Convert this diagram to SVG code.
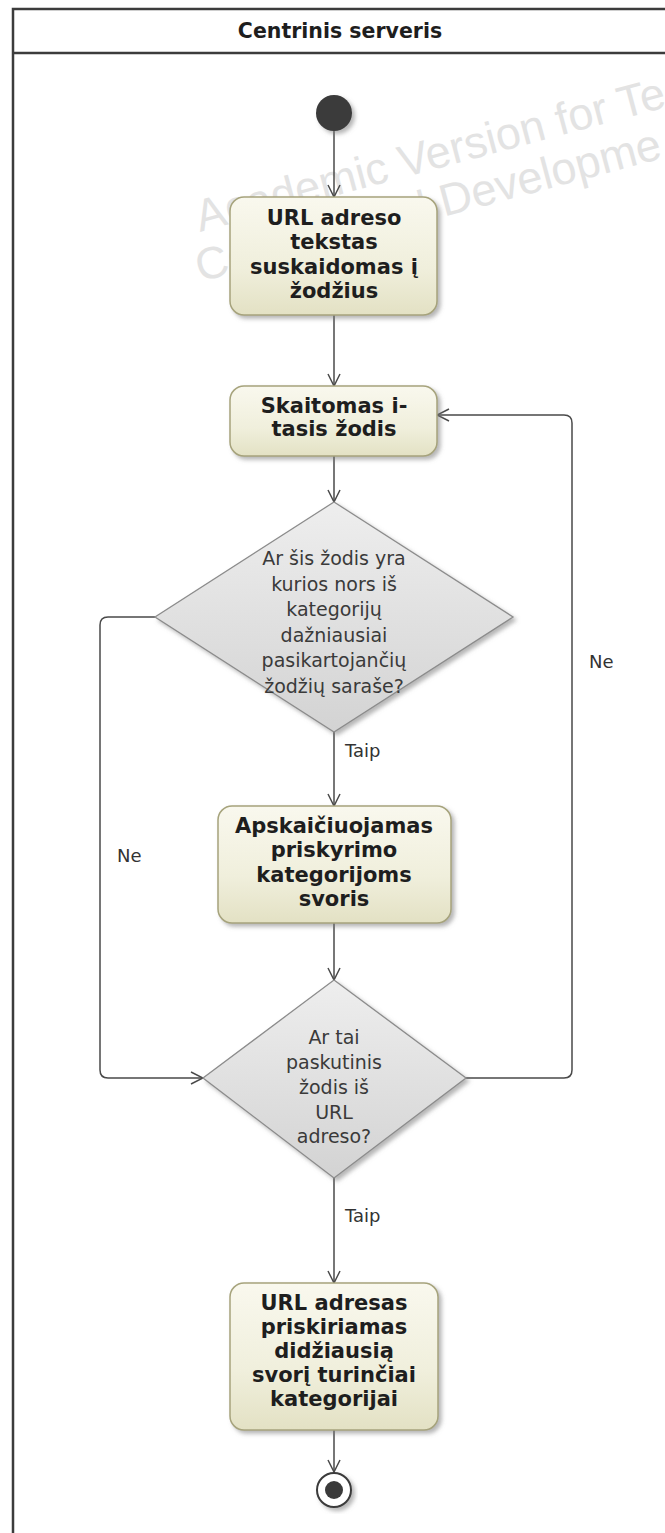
<svg xmlns="http://www.w3.org/2000/svg" width="665" height="1533" viewBox="0 0 665 1533">
  <defs>
    <linearGradient id="actionFill" x1="0" y1="0" x2="0" y2="1">
      <stop offset="0" stop-color="#f9f8ee"/>
      <stop offset="0.6" stop-color="#f0efdc"/>
      <stop offset="1" stop-color="#e3e1c4"/>
    </linearGradient>
    <linearGradient id="decisionFill" x1="0" y1="0" x2="0" y2="1">
      <stop offset="0" stop-color="#eeeeee"/>
      <stop offset="1" stop-color="#d3d3d3"/>
    </linearGradient>
    <filter id="shadow" x="-20%" y="-20%" width="140%" height="140%">
      <feDropShadow dx="3" dy="3" stdDeviation="2" flood-color="#7a7a7a" flood-opacity="0.55"/>
    </filter>
    <marker id="arrow" viewBox="0 0 14 14" refX="13" refY="7" markerWidth="14" markerHeight="14" markerUnits="userSpaceOnUse" orient="auto">
      <path d="M1,1 L13,7 L1,13" fill="none" stroke="#4a4a4a" stroke-width="1.5"/>
    </marker>
    <style>
      .frame { fill: #ffffff; stroke: #3c3c3c; stroke-width: 2.5; }
      .title { font-family: "DejaVu Sans", "Liberation Sans", sans-serif; font-weight: bold; font-size: 20.5px; fill: #1e1e1e; text-anchor: middle; }
      .mark { font-family: "Liberation Sans", Arial, sans-serif; font-size: 45px; fill: #e3e3e3; }
      .action { fill: url(#actionFill); stroke: #a6a37c; stroke-width: 1.5; filter: url(#shadow); }
      .decision { fill: url(#decisionFill); stroke: #8c8c8c; stroke-width: 1.3; filter: url(#shadow); }
      .atext { font-family: "DejaVu Sans", "Liberation Sans", sans-serif; font-weight: bold; font-size: 21px; fill: #1e1e1e; text-anchor: middle; }
      .dtext { font-family: "DejaVu Sans", "Liberation Sans", sans-serif; font-size: 19px; fill: #3a3a3a; text-anchor: middle; }
      .label { font-family: "DejaVu Sans", "Liberation Sans", sans-serif; font-size: 18px; fill: #333333; }
      .edge { fill: none; stroke: #4a4a4a; stroke-width: 1.5; marker-end: url(#arrow); }
    </style>
  </defs>

  <rect width="665" height="1533" fill="#ffffff"/>

  <!-- swimlane partition -->
  <g id="partition">
    <rect class="frame" x="13" y="9" width="700" height="1600"/>
    <line x1="13" y1="53" x2="713" y2="53" stroke="#3c3c3c" stroke-width="2.5"/>
    <text class="title" x="340" y="38">Centrinis serveris</text>
  </g>

  <!-- tool watermark, drawn under the nodes -->
  <g id="watermark">
    <text class="mark" transform="translate(200,232) rotate(-15)">Academic Version for Te</text>
    <text class="mark" transform="translate(200,282) rotate(-15)">Commercial Developme</text>
  </g>

  <!-- control flows -->
  <g id="connectors">
    <path class="edge" d="M334,131 V197"/>
    <path class="edge" d="M334,315 V386"/>
    <path class="edge" d="M334,456 V502"/>
    <path class="edge" d="M334,732 V806"/>
    <path class="edge" d="M334,923 V980"/>
    <path class="edge" d="M334,1178 V1283"/>
    <path class="edge" d="M334,1430 V1472"/>
    <path class="edge" d="M155,617 H108 Q100,617 100,625 V1070 Q100,1078 108,1078 H203"/>
    <path class="edge" d="M466,1078 H564 Q572,1078 572,1070 V423 Q572,415 564,415 H437"/>
    <text class="label" x="345" y="757">Taip</text>
    <text class="label" x="345" y="1222">Taip</text>
    <text class="label" x="117" y="862">Ne</text>
    <text class="label" x="589" y="668">Ne</text>
  </g>

  <g id="start">
    <circle cx="334" cy="113" r="18" fill="#3a3a3a" filter="url(#shadow)"/>
  </g>

  <g id="split-words">
    <rect class="action" x="230" y="197" width="207" height="118" rx="14"/>
    <text class="atext" x="334" y="224.5">URL adreso</text>
    <text class="atext" x="334" y="249">tekstas</text>
    <text class="atext" x="334" y="273.5">suskaidomas į</text>
    <text class="atext" x="334" y="298">žodžius</text>
  </g>

  <g id="read-word">
    <rect class="action" x="230" y="386" width="207" height="70" rx="14"/>
    <text class="atext" x="334" y="412.5">Skaitomas i-</text>
    <text class="atext" x="334" y="436">tasis žodis</text>
  </g>

  <g id="in-list">
    <polygon class="decision" points="334,502 513,617 334,732 155,617"/>
    <text class="dtext" x="334" y="565">Ar šis žodis yra</text>
    <text class="dtext" x="334" y="590.5">kurios nors iš</text>
    <text class="dtext" x="334" y="616">kategorijų</text>
    <text class="dtext" x="334" y="641.5">dažniausiai</text>
    <text class="dtext" x="334" y="667">pasikartojančių</text>
    <text class="dtext" x="334" y="692.5">žodžių saraše?</text>
  </g>

  <g id="compute-weight">
    <rect class="action" x="218" y="806" width="233" height="117" rx="14"/>
    <text class="atext" x="334" y="832.5">Apskaičiuojamas</text>
    <text class="atext" x="334" y="857">priskyrimo</text>
    <text class="atext" x="334" y="881.5">kategorijoms</text>
    <text class="atext" x="334" y="906">svoris</text>
  </g>

  <g id="last-word">
    <polygon class="decision" points="334,980 466,1078 334,1178 203,1078"/>
    <text class="dtext" x="334" y="1044">Ar tai</text>
    <text class="dtext" x="334" y="1069">paskutinis</text>
    <text class="dtext" x="334" y="1094">žodis iš</text>
    <text class="dtext" x="334" y="1119">URL</text>
    <text class="dtext" x="334" y="1143">adreso?</text>
  </g>

  <g id="assign-category">
    <rect class="action" x="230" y="1283" width="208" height="147" rx="14"/>
    <text class="atext" x="334" y="1309.5">URL adresas</text>
    <text class="atext" x="334" y="1333.5">priskiriamas</text>
    <text class="atext" x="334" y="1357.5">didžiausią</text>
    <text class="atext" x="334" y="1381.5">svorį turinčiai</text>
    <text class="atext" x="334" y="1405.5">kategorijai</text>
  </g>

  <g id="end">
    <circle cx="334" cy="1490" r="17" fill="#ffffff" stroke="#3a3a3a" stroke-width="2" filter="url(#shadow)"/>
    <circle cx="334" cy="1490" r="9" fill="#3a3a3a"/>
  </g>
</svg>
